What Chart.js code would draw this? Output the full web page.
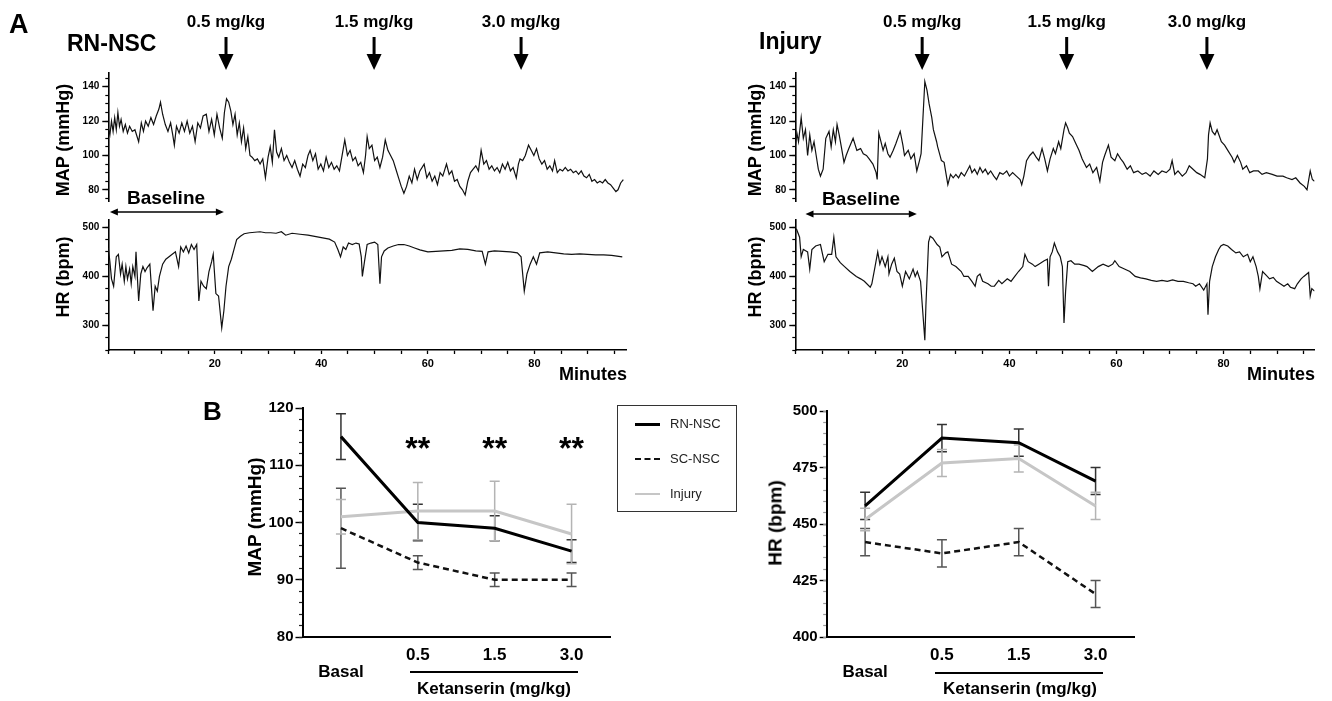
<!DOCTYPE html>
<html>
<head>
<meta charset="utf-8">
<script src="https://cdn.jsdelivr.net/npm/chart.js@4.4.1/dist/chart.umd.min.js"></script>
<style>
  body { margin: 0; background: #fff; width: 1332px; height: 701px; position: relative; overflow: hidden;
         font-family: "Liberation Sans", Arial, sans-serif; }
  .box { position: absolute; }
  .t { position: absolute; font-weight: bold; color: #000; white-space: nowrap; line-height: 1; }
  .legend { position: absolute; left: 617px; top: 405px; width: 120px; height: 107px; border: 1px solid #333; box-sizing: border-box; }
  .legend .row { position: absolute; left: 17px; width: 100px; height: 16px; font-size: 13px; color: #222; white-space: nowrap; }
  .legend .sw { position: absolute; left: 0; top: 7px; width: 25px; }
  .legend .lb { position: absolute; left: 35px; top: 0; line-height: 16px; }
</style>
</head>
<body>
<div class="box" style="left:0;top:0;width:640px;height:210px"><canvas id="mapL" width="640" height="210"></canvas></div>
<div class="box" style="left:0;top:200px;width:640px;height:190px"><canvas id="hrL" width="640" height="190"></canvas></div>
<div class="box" style="left:690px;top:0;width:642px;height:210px"><canvas id="mapR" width="642" height="210"></canvas></div>
<div class="box" style="left:690px;top:200px;width:642px;height:190px"><canvas id="hrR" width="642" height="190"></canvas></div>
<div class="box" style="left:190px;top:385px;width:440px;height:316px"><canvas id="bMap" width="440" height="316"></canvas></div>
<div class="box" style="left:700px;top:385px;width:460px;height:316px"><canvas id="bHr" width="460" height="316"></canvas></div>
<div class="legend" id="legend"></div>

<script>
const rnMapTrace = [[0,116],[0.3,112],[0.6,120],[0.9,114],[1.2,122],[1.5,115],[1.8,125],[2.1,117],[2.4,121],[2.8,114],[3.2,118],[3.6,113],[4,117],[4.5,114],[5,115],[5.7,108],[6.2,119],[6.6,114],[7,120],[7.5,117],[8,122],[8.5,118],[9,123],[9.5,127],[9.8,131],[10.2,124],[10.7,118],[11.2,114],[11.7,119],[12.1,112],[12.4,106],[12.8,117],[13.3,113],[13.8,119],[14.3,114],[14.8,120],[15.3,113],[15.8,117],[16.3,108],[16.8,119],[17.3,116],[17.8,123],[18.4,124],[18.9,114],[19.4,121],[19.9,112],[20.4,124],[20.9,116],[21.4,110],[21.8,125],[22.2,133],[22.6,131],[23,126],[23.4,118],[23.8,124],[24.2,112],[24.6,119],[25,108],[25.4,116],[25.8,104],[26.2,111],[26.6,100],[27,99],[27.5,97],[28,98],[28.5,95],[29,98],[29.5,87],[30,99],[30.4,105],[30.8,96],[31.2,115],[31.6,102],[32,99],[32.5,104],[33,97],[33.5,100],[34,96],[34.5,93],[35,97],[35.5,92],[36,88],[36.5,95],[37,93],[37.5,100],[37.9,103],[38.4,97],[38.9,101],[39.4,92],[39.9,95],[40.4,91],[40.9,99],[41.4,93],[41.9,96],[42.4,92],[42.9,94],[43.4,91],[43.9,100],[44.4,109],[44.9,100],[45.4,103],[45.9,97],[46.4,99],[46.9,94],[47.4,96],[47.9,90],[48.3,100],[48.6,111],[49,104],[49.5,106],[50,97],[50.5,99],[51,93],[51.5,99],[52,109],[52.5,103],[53,100],[53.5,97],[54,92],[54.5,87],[55,82],[55.5,78],[56,82],[56.5,88],[57,84],[57.5,92],[58,86],[58.5,91],[59.3,95],[59.8,87],[60.3,90],[60.8,85],[61.3,88],[61.8,83],[62.3,90],[62.8,88],[63.5,95],[64,89],[64.5,91],[65,85],[65.5,86],[66,82],[66.5,80],[67,77],[67.5,85],[68,90],[68.5,92],[69,94],[69.5,91],[70,103],[70.5,95],[71,97],[71.5,92],[72,94],[72.5,91],[73,93],[73.5,90],[74,95],[74.5,92],[75,96],[75.5,91],[76,93],[76.6,87],[77,95],[77.3,98],[77.8,97],[78.3,100],[78.9,106],[79.4,103],[79.9,100],[80.4,104],[80.9,98],[81.4,95],[81.9,97],[82.4,92],[82.9,94],[83.4,91],[83.8,97],[84.3,90],[84.8,92],[85.3,91],[85.8,93],[86.3,91],[86.8,92],[87.3,90],[87.8,91],[88.3,89],[88.8,91],[89.3,88],[89.8,87],[90.3,89],[90.8,85],[91.3,86],[91.8,84],[92.3,85],[92.8,84],[93.3,86],[93.8,84],[94.3,83],[94.8,81],[95.3,79],[95.7,80],[96.2,84],[96.7,86]];

const rnHrTrace = [[0,458],[0.3,430],[0.6,395],[1,380],[1.5,440],[1.9,445],[2.3,405],[2.6,425],[3,390],[3.3,420],[3.6,395],[4,415],[4.3,385],[4.6,420],[5,400],[5.2,450],[5.7,350],[6.1,405],[6.5,420],[6.9,410],[7.3,418],[7.8,425],[8.4,330],[8.8,380],[9.2,370],[9.6,400],[10.2,425],[10.8,435],[11.4,440],[12,445],[12.6,450],[13.2,420],[13.6,460],[14.1,450],[14.6,462],[15.1,448],[15.6,465],[16.1,455],[16.6,465],[17,350],[17.4,390],[17.9,380],[18.4,375],[18.9,410],[19.4,430],[19.7,445],[20.2,365],[20.7,360],[21.3,295],[21.7,330],[22.1,380],[22.6,420],[23.1,435],[23.6,455],[24.1,475],[24.8,482],[25.5,487],[26.5,489],[27.5,490],[28.5,491],[29.5,489],[30.5,489],[31.5,488],[32.5,491],[33.3,484],[34.5,488],[36,486],[37.5,484],[39,481],[40.5,478],[41.5,476],[42.5,470],[43.1,455],[43.6,440],[44.1,460],[44.6,455],[45.1,468],[45.8,465],[46.5,468],[47.1,466],[47.5,440],[47.7,400],[48.1,430],[48.6,465],[49.3,468],[50,470],[50.6,465],[51,385],[51.3,440],[51.8,452],[52.5,458],[53.5,462],[54.5,465],[55.5,465],[56.5,462],[57.5,458],[58.5,454],[60,450],[61.5,451],[63,452],[64.5,453],[66,456],[67.5,455],[69,452],[70.2,451],[70.8,425],[71.3,450],[72.5,452],[74,451],[75.5,450],[76.8,448],[77.5,440],[78.1,370],[78.6,405],[79.2,425],[79.8,440],[80.4,425],[81,448],[82.5,450],[84,448],[85.5,446],[87,445],[88.5,446],[90,445],[91.5,444],[93,444],[94.5,443],[96.5,440]];

const injMapTrace = [[0,105],[0.3,113],[0.6,108],[1.1,122],[1.5,110],[1.9,115],[2.3,100],[2.7,112],[3.1,103],[3.5,108],[3.9,100],[4.3,92],[4.7,88],[5.2,92],[5.7,110],[6.3,114],[6.7,105],[7.1,115],[7.5,108],[7.8,118],[8.2,112],[8.6,105],[9.1,96],[9.5,100],[10,104],[10.8,110],[11.5,103],[12.2,104],[12.7,101],[13.3,100],[13.8,98],[14.5,95],[15.1,90],[15.3,86],[15.6,113],[16,108],[16.4,103],[16.8,107],[17.3,101],[17.7,99],[18.3,103],[18.8,107],[19.6,114],[20.1,106],[20.4,100],[21.1,103],[21.6,98],[22.2,101],[22.7,91],[23.2,97],[23.5,101],[24.2,143],[24.6,138],[25,130],[25.5,122],[25.8,115],[26.4,108],[26.6,105],[27.3,97],[27.8,96],[28.5,83],[29,89],[29.5,87],[30,89],[30.5,87],[31,90],[31.6,88],[32.6,94],[33,90],[33.5,92],[34,89],[34.5,93],[35,90],[35.5,92],[36,89],[36.5,91],[37.1,88],[37.6,86],[38.2,90],[38.8,89],[39.5,91],[40,88],[40.6,90],[41.3,88],[42,86],[42.3,83],[42.7,88],[43.2,97],[43.8,100],[44.4,102],[45,99],[45.5,97],[46.1,104],[46.6,98],[47.1,91],[47.6,98],[48.2,104],[48.6,101],[49.2,108],[49.6,104],[50.2,115],[50.5,119],[50.9,116],[51.2,113],[51.8,111],[52.4,107],[53,103],[53.6,98],[54.4,93],[55,95],[55.6,90],[56.3,93],[56.9,85],[57.4,96],[57.8,100],[58.5,106],[59,99],[59.7,97],[60.2,101],[60.8,98],[61.3,96],[62,92],[62.6,94],[63.2,90],[64,91],[64.8,89],[65.5,90],[66.3,88],[67,91],[67.8,89],[68.5,91],[69.3,90],[70,92],[70.4,97],[70.9,89],[71.5,91],[72.3,88],[73,90],[73.6,94],[74.3,92],[75,90],[75.6,89],[76.5,87],[77,98],[77.2,112],[77.5,119],[77.9,114],[78.4,112],[78.8,115],[79.6,108],[80.2,106],[80.8,103],[81.6,99],[82,96],[82.6,100],[83.2,96],[83.6,92],[84.3,94],[84.9,90],[85.6,91],[86.5,91],[87.2,89],[88,90],[89.1,89],[90,88],[91.1,88],[91.8,87],[92.8,86],[93.5,87],[94.3,84],[95.1,82],[95.6,80],[96.2,91],[96.6,86],[97,85]];

const injHrTrace = [[0.2,497],[0.8,480],[1.1,440],[1.5,455],[2,452],[2.3,450],[2.7,415],[3.1,455],[3.8,462],[4.7,465],[5.2,440],[5.4,430],[6.1,445],[6.8,445],[7.2,480],[7.6,440],[8.4,428],[9.2,420],[10.2,410],[11.4,400],[12.2,395],[12.9,390],[14,378],[14.3,385],[14.9,420],[15.4,450],[15.8,425],[16.2,440],[16.8,420],[17.3,440],[17.5,405],[18,425],[18.5,437],[19,410],[19.5,405],[20,380],[20.6,410],[21.3,395],[22,415],[22.4,400],[22.8,410],[23.4,390],[24.2,270],[24.4,340],[24.9,470],[25.2,482],[25.7,478],[26.5,465],[27,460],[27.4,440],[28.1,448],[28.5,450],[29.2,425],[30,420],[31,410],[31.5,400],[32.3,400],[33,390],[33.6,380],[34,400],[34.5,405],[35,390],[36,385],[36.6,380],[37.2,380],[38,392],[38.6,385],[39.6,395],[40.3,390],[41,400],[41.7,410],[42.5,420],[42.9,445],[43.5,430],[44.3,425],[44.8,420],[45.5,425],[46.5,432],[47.1,435],[47.3,380],[47.6,440],[48,450],[48.4,468],[49,450],[49.5,440],[49.9,420],[50.2,305],[50.5,370],[50.9,430],[51.5,432],[52.2,425],[53,425],[54,422],[54.5,420],[55,415],[55.5,410],[56.6,420],[57.5,425],[58.5,420],[59.3,425],[59.7,432],[60.5,420],[61.5,415],[62.5,410],[63.5,400],[64.5,397],[65.5,395],[66.5,392],[67.5,390],[68.5,392],[69.5,390],[70.5,393],[71.5,390],[72.5,390],[73.5,387],[74.3,385],[74.8,380],[75.5,385],[76.3,372],[76.9,385],[77.1,322],[77.4,390],[77.9,420],[78.5,440],[79.1,455],[79.5,462],[80,465],[80.8,462],[81.5,455],[82.3,448],[83,450],[83.7,440],[84.5,445],[85,430],[85.5,440],[86.1,420],[86.5,400],[86.8,375],[87.3,410],[88,402],[88.6,395],[89.3,398],[89.9,390],[90.6,385],[91.3,380],[92,385],[92.5,378],[93.3,375],[93.8,385],[94.5,395],[95,400],[95.9,408],[96.2,360],[96.5,375],[97,370]];

const doseLabels = ['0.5 mg/kg', '1.5 mg/kg', '3.0 mg/kg'];
const rnDoseTimes = [22.1, 49.9, 77.5];
const injDoseTimes = [23.7, 50.7, 76.9];
const rnBaseline = [0.3, 21.7];
const injBaseline = [1.9, 22.7];

// ---- panel B: group means and error bars
const groups = ['Basal', '0.5', '1.5', '3.0'];
const seriesNames = ['RN-NSC', 'SC-NSC', 'Injury'];
const mapRn = [115, 100, 99, 95];
const mapRnErr = [4, 3.2, 2.2, 2];
const mapSc = [99, 93, 90, 90];
const mapScErr = [7, 1.2, 1.2, 1.2];
const mapInj = [101, 102, 102, 98];
const mapInjErr = [3, 5, 5.2, 5.2];
const hrRn = [458, 488, 486, 469];
const hrRnErr = [6, 6, 6, 6];
const hrSc = [442, 437, 442, 419];
const hrScErr = [6, 6, 6, 6];
const hrInj = [452, 477, 479, 458];
const hrInjErr = [5, 6, 6, 6];
const sigMarks = ['', '**', '**', '**'];

Chart.defaults.font.family = '"Liberation Sans", Arial, sans-serif';
Chart.defaults.color = '#000';

const FONT = '"Liberation Sans", Arial, sans-serif';

function addText(txt, x, base, size, align) {
  const d = document.createElement('div');
  d.className = 't';
  d.textContent = txt;
  d.style.fontSize = size + 'px';
  d.style.top = (base - 0.8465 * size) + 'px';
  if (align === 'center') { d.style.left = x + 'px'; d.style.transform = 'translateX(-50%)'; }
  else if (align === 'right') { d.style.right = (1332 - x) + 'px'; }
  else d.style.left = x + 'px';
  document.body.appendChild(d);
}
function addVText(txt, cx, cy, size) {
  const d = document.createElement('div');
  d.className = 't';
  d.textContent = txt;
  d.style.fontSize = size + 'px';
  d.style.left = cx + 'px';
  d.style.top = cy + 'px';
  d.style.transform = 'translate(-50%,-50%) rotate(-90deg)';
  document.body.appendChild(d);
}
function addRule(x1, x2, y) {
  const d = document.createElement('div');
  d.style.cssText = `position:absolute;left:${x1}px;top:${y - 1}px;width:${x2 - x1}px;height:2px;background:#000`;
  document.body.appendChild(d);
}

const doseArrows = {
  id: 'doseArrows',
  afterDraw(chart, args, opts) {
    const ctx = chart.ctx, x = chart.scales.x;
    ctx.save();
    ctx.fillStyle = '#000';
    ctx.font = 'bold 17px ' + FONT;
    ctx.textAlign = 'center';
    opts.times.forEach((t, i) => {
      const px = x.getPixelForValue(t);
      ctx.fillText(opts.labels[i], px, 27);
      ctx.fillRect(px - 1.5, 37, 3, 19);
      ctx.beginPath();
      ctx.moveTo(px - 7.5, 54); ctx.lineTo(px + 7.5, 54); ctx.lineTo(px, 70);
      ctx.closePath(); ctx.fill();
    });
    ctx.restore();
  }
};

const baselineArrow = {
  id: 'baselineArrow',
  afterDraw(chart, args, opts) {
    const ctx = chart.ctx, x = chart.scales.x;
    const a = x.getPixelForValue(opts.range[0]), b = x.getPixelForValue(opts.range[1]), y = opts.y;
    ctx.save();
    ctx.strokeStyle = '#000'; ctx.fillStyle = '#000'; ctx.lineWidth = 1.5;
    ctx.beginPath(); ctx.moveTo(a + 3, y); ctx.lineTo(b - 3, y); ctx.stroke();
    ctx.beginPath(); ctx.moveTo(a, y); ctx.lineTo(a + 8, y - 3.5); ctx.lineTo(a + 8, y + 3.5); ctx.closePath(); ctx.fill();
    ctx.beginPath(); ctx.moveTo(b, y); ctx.lineTo(b - 8, y - 3.5); ctx.lineTo(b - 8, y + 3.5); ctx.closePath(); ctx.fill();
    ctx.restore();
  }
};

function yAxes(min, max, major, minor, width, font, majorLen, minorLen, pad, minorColor) {
  return {
    y: {
      type: 'linear', position: 'left', weight: 1, min, max,
      afterFit: s => { s.width = width; },
      border: { display: true, color: '#000', width: 1.6 },
      grid: { drawOnChartArea: false, drawTicks: true, tickLength: majorLen, tickColor: '#000', tickWidth: 1.4 },
      ticks: { stepSize: major, includeBounds: false, font: { size: font, weight: 'bold' }, padding: pad, color: '#000' }
    },
    y2: {
      type: 'linear', position: 'left', weight: 0, min, max,
      afterFit: s => { s.width = 0; },
      border: { display: false },
      grid: { drawOnChartArea: false, drawTicks: true, tickLength: minorLen, tickColor: minorColor, tickWidth: 1.2 },
      ticks: { stepSize: minor, includeBounds: false, display: false }
    }
  };
}

function traceChart(id, pts, o) {
  const scales = yAxes(o.yMin, o.yMax, o.major, o.minor, o.yWidth, 10, 6, 3, 3, '#000');
  scales.x = {
    type: 'linear', min: 0, max: o.xMax, display: o.showX,
    afterFit: s => { s.height = o.showX ? 40 : 0; },
    border: { display: true, color: '#000', width: 1.6 },
    grid: { drawOnChartArea: false, drawTicks: true, tickLength: 4, tickColor: '#000', tickWidth: 1.3 },
    ticks: {
      stepSize: 5, includeBounds: false, autoSkip: false, maxRotation: 0, padding: 3,
      font: { size: 11, weight: 'bold' }, color: '#000',
      callback: v => (v > 0 && v % 20 === 0) ? String(v) : ''
    }
  };
  return new Chart(document.getElementById(id), {
    type: 'line',
    data: { datasets: [{ data: pts.map(p => ({ x: p[0], y: p[1] })), borderColor: '#111', borderWidth: 1.2, pointRadius: 0, tension: 0 }] },
    options: {
      responsive: false, animation: false, devicePixelRatio: 1,
      layout: { padding: o.pad },
      plugins: Object.assign({ legend: { display: false }, tooltip: { enabled: false } }, o.pluginOpts),
      scales
    },
    plugins: o.plugins
  });
}

// left: RN-NSC
traceChart('mapL', rnMapTrace, {
  yMin: 73.5, yMax: 148, major: 20, minor: 5, yWidth: 108.3, xMax: 97.2, showX: false,
  pad: { top: 73, right: 14, bottom: 3.5, left: 0 },
  plugins: [doseArrows], pluginOpts: { doseArrows: { times: rnDoseTimes, labels: doseLabels } }
});
traceChart('hrL', rnHrTrace, {
  yMin: 250, yMax: 515, major: 100, minor: 25, yWidth: 108.3, xMax: 97.2, showX: true,
  pad: { top: 20, right: 14, bottom: 0, left: 0 },
  plugins: [baselineArrow], pluginOpts: { baselineArrow: { range: rnBaseline, y: 12 } }
});
// right: Injury
traceChart('mapR', injMapTrace, {
  yMin: 73.5, yMax: 148, major: 20, minor: 5, yWidth: 105.3, xMax: 97, showX: false,
  pad: { top: 73, right: 17.5, bottom: 3.5, left: 0 },
  plugins: [doseArrows], pluginOpts: { doseArrows: { times: injDoseTimes, labels: doseLabels } }
});
traceChart('hrR', injHrTrace, {
  yMin: 250, yMax: 515, major: 100, minor: 25, yWidth: 105.3, xMax: 97, showX: true,
  pad: { top: 20, right: 17.5, bottom: 0, left: 0 },
  plugins: [baselineArrow], pluginOpts: { baselineArrow: { range: injBaseline, y: 14 } }
});

// ---- panel B
const errorBars = {
  id: 'errorBars',
  beforeDatasetsDraw(chart) {
    const { ctx } = chart, x = chart.scales.x, y = chart.scales.y;
    chart.data.datasets.forEach(ds => {
      ctx.save();
      ctx.strokeStyle = ds.errColor; ctx.lineWidth = 1.5;
      ds.data.forEach((v, i) => {
        const e = ds.errors[i], px = x.getPixelForValue(i);
        const t = y.getPixelForValue(v + e), b = y.getPixelForValue(v - e);
        ctx.beginPath();
        ctx.moveTo(px, t); ctx.lineTo(px, b);
        ctx.moveTo(px - 5, t); ctx.lineTo(px + 5, t);
        ctx.moveTo(px - 5, b); ctx.lineTo(px + 5, b);
        ctx.stroke();
      });
      ctx.restore();
    });
  }
};
const sigStars = {
  id: 'sigStars',
  afterDraw(chart, args, opts) {
    if (!opts.marks) return;
    const { ctx } = chart, x = chart.scales.x, y = chart.scales.y;
    ctx.save();
    ctx.fillStyle = '#000'; ctx.font = 'bold 32px ' + FONT; ctx.textAlign = 'center'; ctx.textBaseline = 'alphabetic';
    opts.marks.forEach((m, i) => { if (m) ctx.fillText(m, x.getPixelForValue(i), y.getPixelForValue(opts.level)); });
    ctx.restore();
  }
};

function groupChart(id, rows, o) {
  const scales = yAxes(o.yMin, o.yMax, o.major, o.minor, o.yWidth, 15, 7, 3.5, 2, o.minorColor);
  scales.x = {
    type: 'category', offset: true,
    afterFit: s => { s.height = 64; },
    border: { display: true, color: '#000', width: 2 },
    grid: { display: false, drawTicks: false },
    ticks: {
      padding: 10, maxRotation: 0, autoSkip: false, color: '#000',
      font: { size: 17, weight: 'bold', lineHeight: 1 },
      callback: (v, i) => i === 0 ? ['', groups[i]] : groups[i]
    }
  };
  scales.y.border.width = 2;
  const styles = [
    { borderColor: '#000', borderWidth: 3, errColor: '#333' },
    { borderColor: '#111', borderWidth: 2.5, borderDash: [6, 4], errColor: '#555' },
    { borderColor: '#c6c6c6', borderWidth: 3, errColor: '#b4b4b4' }
  ];
  return new Chart(document.getElementById(id), {
    type: 'line',
    data: {
      labels: groups,
      datasets: rows.map((r, k) => Object.assign({ label: seriesNames[k], data: r[0], errors: r[1], pointRadius: 0, tension: 0, order: k === 2 ? 3 : k }, styles[k]))
    },
    options: {
      responsive: false, animation: false, devicePixelRatio: 1,
      layout: { padding: o.pad },
      plugins: { legend: { display: false }, tooltip: { enabled: false }, sigStars: { marks: o.marks, level: o.level } },
      scales
    },
    plugins: [errorBars, sigStars]
  });
}

groupChart('bMap', [[mapRn, mapRnErr], [mapSc, mapScErr], [mapInj, mapInjErr]], {
  yMin: 80, yMax: 120, major: 10, minor: 2, yWidth: 112.5, minorColor: '#222',
  pad: { top: 23, right: 20, bottom: 0, left: 0 }, marks: sigMarks, level: 111.1
});
groupChart('bHr', [[hrRn, hrRnErr], [hrSc, hrScErr], [hrInj, hrInjErr]], {
  yMin: 400, yMax: 500, major: 25, minor: 5, yWidth: 126.7, minorColor: '#999',
  pad: { top: 26, right: 26, bottom: 0, left: 0 }
});

// legend
const legend = document.getElementById('legend');
const swatches = ['border-top:3px solid #000', 'border-top:2.5px dashed #111', 'border-top:2px solid #c6c6c6'];
seriesNames.forEach((name, k) => {
  const row = document.createElement('div');
  row.className = 'row';
  row.style.top = (10 + k * 35) + 'px';
  row.innerHTML = `<div class="sw" style="${swatches[k]}"></div><div class="lb">${name}</div>`;
  legend.appendChild(row);
});

// text labels
addText('A', 9, 34, 27, 'left');
addText('RN-NSC', 67, 51.5, 23, 'left');
addText('Injury', 759, 49.5, 23, 'left');
addText('Baseline', 166, 204.5, 19, 'center');
addText('Baseline', 861, 205.5, 19, 'center');
addText('Minutes', 627, 380, 18, 'right');
addText('Minutes', 1315, 380, 18, 'right');
addVText('MAP (mmHg)', 63, 140, 18);
addVText('HR (bpm)', 63, 277, 18);
addVText('MAP (mmHg)', 755, 140, 18);
addVText('HR (bpm)', 755, 277, 18);
addText('B', 203, 420.5, 26, 'left');
addVText('MAP (mmHg)', 254, 517, 19);
addVText('HR (bpm)', 775, 523, 19);
addRule(410, 578, 672);
addRule(935, 1103, 673);
addText('Ketanserin (mg/kg)', 494, 694, 17, 'center');
addText('Ketanserin (mg/kg)', 1020, 694, 17, 'center');
</script>
</body>
</html>
